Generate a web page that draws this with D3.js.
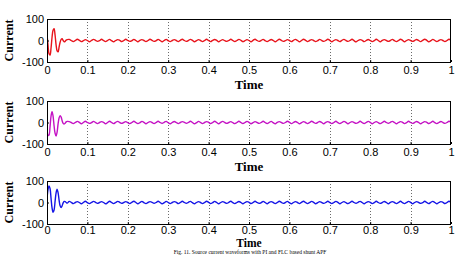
<!DOCTYPE html>
<html lang="en">
<head>
    <meta charset="UTF-8">
    <title>Current vs Time</title>
    <script src="https://d3js.org/d3.v7.min.js"></script>
    <style>
        body { margin: 0; background: #fff; }
        svg { display: block; background: #fff; }
    </style>
</head>
<body>
<svg width="456" height="255"></svg>
<script>
    // tick labels
    const xTicks = [0, 0.1, 0.2, 0.3, 0.4, 0.5, 0.6, 0.7, 0.8, 0.9, 1];
    const xTickLabels = ["0", "0.1", "0.2", "0.3", "0.4", "0.5", "0.6", "0.7", "0.8", "0.9", "1"];
    const yTicks = [-100, 0, 100];
    const yTickLabels = ["-100", "0", "100"];

    // start-up transient, read every 0.0025 s from 0 to 0.05 s
    const redTransient = [28, -20, -62, -68, -35, 15, 48, 55, 25, -20, -48, -53, -30, -8, 5, 8, 0, -6, -4, 2, 4];
    const magentaTransient = [-5, -60, -58, -20, 30, 50, 30, -15, -50, -63, -45, -5, 22, 32, 25, 8, -4, -7, -3, 3, 5];
    const blueTransient = [15, 60, 77, 65, 20, -25, -46, -35, 5, 45, 62, 45, 10, -15, -23, -15, -2, 5, 4, 0, -3];

    // steady-state ripple, read every 0.005 s from 0.055 s to 1 s
    const redSteady = [
        5,0,-5,0,6,1,-5,-1, 4,0,-6,0,5,1,-4,-1, 6,0,-5,0,5,-1,-6,0, 4,1,-5,0,6,0,-4,-1,
        5,0,-6,1,4,0,-5,0, 6,1,-4,-1,5,0,-6,0, 5,-1,-5,0,4,0,-5,1, 6,0,-4,0,5,1,-6,-1,
        4,0,-5,0,6,0,-5,1, 5,1,-6,0,4,-1,-4,0, 6,0,-5,0,5,1,-5,-1, 4,0,-6,1,6,0,-4,0,
        5,-1,-5,0,5,0,-6,0, 6,1,-4,-1,4,0,-5,1, 5,0,-6,0,6,1,-5,0, 4,0,-5,-1,5,0,-4,0,
        6,1,-6,0,4,0,-5,1, 5,0,-4,0,6,-1,-6,0, 4,1,-5,0,5,0,-5,-1, 6,0,-6,1,4,0,-4,0,
        5,-1,-5,0,6,1,-6,0, 4,0,-4,0,5,0,-5,1, 6,1,-6,-1,5,0,-5,0, 4,0,-5,0,6,0
    ];
    const magentaSteady = [
        4,0,-5,0,5,1,-6,0, 6,0,-4,-1,5,0,-5,0, 4,1,-6,0,6,0,-5,1, 5,0,-4,0,4,-1,-5,0,
        6,0,-5,-1,5,1,-6,0, 4,0,-5,0,6,0,-4,1, 5,-1,-6,0,5,0,-5,0, 4,1,-4,0,6,0,-6,-1,
        5,0,-5,0,4,1,-5,0, 6,0,-6,1,5,0,-4,0, 4,-1,-5,0,6,0,-5,0, 5,1,-6,-1,4,0,-4,0,
        6,0,-5,0,5,-1,-6,1, 4,0,-4,0,6,1,-5,0, 5,0,-6,-1,4,0,-5,0, 6,1,-4,0,5,0,-6,1,
        4,0,-5,0,6,-1,-5,0, 5,1,-6,0,4,0,-4,-1, 6,0,-5,0,5,1,-6,0, 4,-1,-5,0,6,0,-4,1,
        5,0,-6,0,4,1,-5,-1, 6,0,-4,0,5,0,-6,0, 4,1,-5,0,6,-1,-5,0, 5,0,-4,0,6,1
    ];
    const blueSteady = [
        5,1,-5,0,4,0,-6,0, 6,-1,-5,0,5,1,-4,0, 4,0,-6,-1,6,0,-5,0, 5,1,-4,0,4,0,-5,1,
        6,0,-6,0,5,-1,-5,0, 4,1,-4,0,6,0,-6,-1, 5,0,-5,0,4,1,-5,0, 6,0,-4,1,5,-1,-6,0,
        4,0,-5,0,6,1,-5,-1, 5,0,-6,0,4,0,-4,1, 6,-1,-5,0,5,0,-6,0, 4,1,-5,0,6,0,-4,-1,
        5,0,-6,1,4,0,-5,0, 6,1,-4,0,5,-1,-6,0, 4,0,-5,1,6,0,-5,0, 5,1,-6,-1,4,0,-4,0,
        6,0,-5,0,5,1,-6,0, 4,-1,-5,0,6,0,-4,1, 5,0,-6,0,4,1,-5,-1, 6,0,-4,0,5,0,-6,1,
        4,0,-5,0,6,-1,-5,0, 5,1,-6,0,4,0,-4,-1, 6,0,-5,1,5,0,-6,0, 4,1,-5,0,6,0
    ];

    const transientTimes = redTransient.map((v, i) => i * 0.0025);
    const steadyTimes = redSteady.map((v, i) => 0.05 + (i + 1) * 0.005);
    const times = transientTimes.concat(steadyTimes);

    const panels = [
        { values: redTransient.concat(redSteady), color: "#e8141c", top: 19, timeGap: 27, timeSize: 13, pad: 4 },
        { values: magentaTransient.concat(magentaSteady), color: "#c412c4", top: 101, timeGap: 27, timeSize: 13, pad: 4 },
        { values: blueTransient.concat(blueSteady), color: "#1515e6", top: 181, timeGap: 23, timeSize: 11.5, pad: 2 }
    ];

    const svg = d3.select("svg");
    const left = 47, right = 451, plotH = 43;

    const x = d3.scaleLinear().domain([0, 1]).range([left, right]);

    panels.forEach((p, idx) => {
        const y = d3.scaleLinear().domain([-100, 100]).range([p.top + plotH, p.top]);
        const g = svg.append("g");

        // dotted vertical grid
        g.selectAll(".grid")
            .data(xTicks.slice(1, -1))
            .enter()
            .append("line")
            .attr("x1", d => Math.round(x(d)) + 0.5)
            .attr("x2", d => Math.round(x(d)) + 0.5)
            .attr("y1", p.top)
            .attr("y2", p.top + plotH)
            .attr("stroke", "#444")
            .attr("stroke-width", 0.8)
            .attr("stroke-dasharray", "1,2");

        g.append("clipPath")
            .attr("id", "clip" + idx)
            .append("rect")
            .attr("x", left).attr("y", p.top)
            .attr("width", right - left).attr("height", plotH);

        const line = d3.line()
            .x((d, i) => x(times[i]))
            .y(d => y(d))
            .curve(d3.curveCatmullRom);

        g.append("path")
            .datum(p.values)
            .attr("clip-path", "url(#clip" + idx + ")")
            .attr("d", line)
            .attr("fill", "none")
            .attr("stroke", p.color)
            .attr("stroke-width", 1.4);

        // axes
        const xAxis = d3.axisBottom(x)
            .tickValues(xTicks)
            .tickFormat((d, i) => xTickLabels[i])
            .tickSize(-2)
            .tickPadding(p.pad);
        const yAxis = d3.axisLeft(y)
            .tickValues(yTicks)
            .tickFormat((d, i) => yTickLabels[i])
            .tickSize(-2)
            .tickPadding(3);

        g.append("g")
            .attr("transform", `translate(0,${p.top + plotH})`)
            .call(xAxis);
        g.append("g")
            .attr("transform", `translate(${left},0)`)
            .call(yAxis);

        g.selectAll(".domain").remove();
        g.selectAll(".tick text")
            .attr("font-family", "'Liberation Sans', Arial, sans-serif")
            .attr("font-size", 11)
            .attr("fill", "#000");
        g.selectAll(".tick line").attr("stroke", "#000");

        // box
        g.append("rect")
            .attr("x", left + 0.5)
            .attr("y", p.top + 0.5)
            .attr("width", right - left - 1)
            .attr("height", plotH)
            .attr("fill", "none")
            .attr("stroke", "#000")
            .attr("stroke-width", 1);

        g.append("text")
            .attr("x", (left + right) / 2)
            .attr("y", p.top + plotH + p.timeGap)
            .attr("text-anchor", "middle")
            .attr("font-family", "'Liberation Serif', 'Times New Roman', serif")
            .attr("font-weight", "bold")
            .attr("font-size", p.timeSize)
            .text("Time");

        g.append("text")
            .attr("transform", `translate(13,${p.top + plotH / 2}) rotate(-90)`)
            .attr("text-anchor", "middle")
            .attr("font-family", "'Liberation Serif', 'Times New Roman', serif")
            .attr("font-weight", "bold")
            .attr("font-size", 12)
            .text("Current");
    });

    // figure caption along the bottom edge
    svg.append("text")
        .attr("x", 250)
        .attr("y", 254)
        .attr("text-anchor", "middle")
        .attr("font-family", "'Liberation Serif', 'Times New Roman', serif")
        .attr("font-size", 5.5)
        .text("Fig. 11. Source current waveforms with PI and FLC based shunt APF");
</script>
</body>
</html>
